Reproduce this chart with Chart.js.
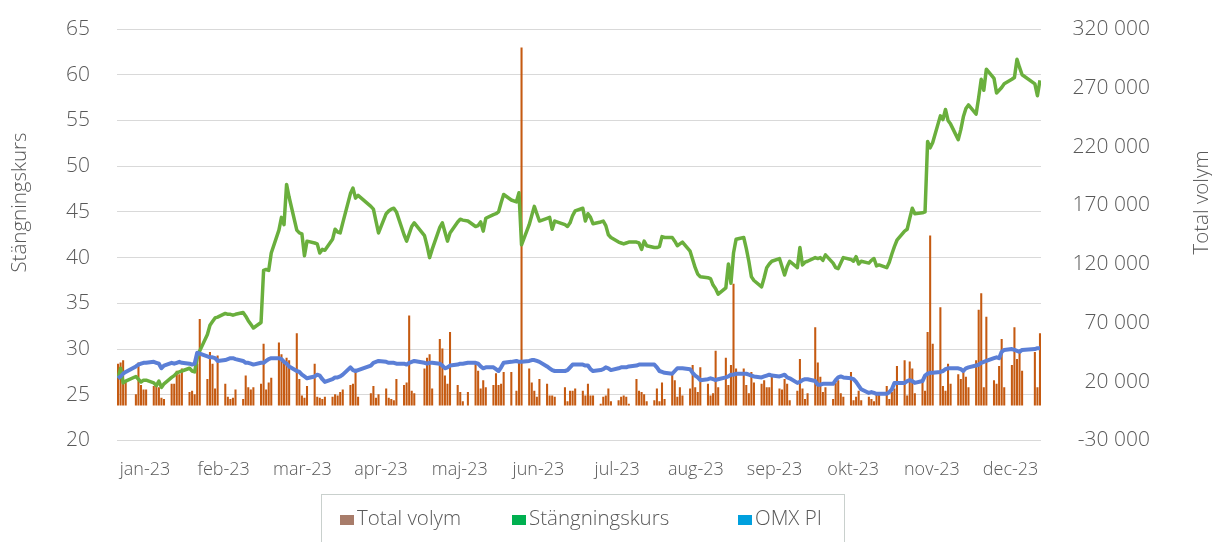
<!DOCTYPE html>
<html><head><meta charset="utf-8">
<script src="https://cdn.jsdelivr.net/npm/chart.js@4.4.1/dist/chart.umd.min.js"></script>
<style>
html,body{margin:0;padding:0;background:#fff;overflow:hidden;}
#wrap{position:relative;width:1212px;height:542px;overflow:hidden;}
#c{position:absolute;left:0;top:0;}
#legend{position:absolute;left:321px;top:494px;width:524px;height:70px;border:1px solid #c9d0cd;box-sizing:border-box;font-family:'Open Sans',sans-serif;font-weight:300;font-size:20.5px;color:#595959;}
.sw{position:absolute;top:20px;width:14px;height:10px;}
.tx{position:absolute;top:10px;line-height:24px;white-space:nowrap;}
</style></head>
<body><div id="wrap"><canvas id="c" width="1212" height="542"></canvas><div id="legend"></div></div>
<script>
// ---- categories (trading days 2023, Nasdaq Stockholm) ----
const YEAR = 2023;
const holidays = ['01-06','04-07','04-10','05-01','05-18','06-06','06-23','12-25','12-26'];
const monthLabels = ['jan-23','feb-23','mar-23','apr-23','maj-23','jun-23','jul-23','aug-23','sep-23','okt-23','nov-23','dec-23'];
const priceTicks = [20,25,30,35,40,45,50,55,60,65];
const volumeTicks = [-30000,20000,70000,120000,170000,220000,270000,320000];
const leftTitle = 'Stängningskurs';
const rightTitle = 'Total volym';

// ---- series (one value per trading day) ----
const closePrice = [
 26.8,27.9,26.3,26.5,27.0,26.7,26.4,26.6,26.6,26.3,26.0,26.5,25.8,26.2,26.9,27.1,27.4,27.5,27.6,27.9,27.6,
 27.5,29.0,29.8,31.6,32.6,33.0,33.4,33.5,33.9,33.8,33.8,33.7,33.8,34.0,33.6,33.1,32.7,32.3,32.9,38.6,
 38.7,38.6,40.5,43.0,44.4,43.6,48.0,46.6,43.0,42.7,42.6,40.2,41.8,41.6,41.5,40.5,40.9,40.8,42.0,43.1,42.8,42.7,43.8,
 47.0,47.6,46.5,46.8,45.6,45.3,44.0,42.7,44.8,45.1,45.3,45.4,45.0,42.5,41.8,42.6,43.4,43.8,
 42.4,41.3,40.0,40.9,43.3,43.8,42.8,41.8,42.7,43.9,44.2,44.1,44.0,43.4,43.5,43.9,42.9,44.3,44.7,44.8,45.0,
 46.0,46.9,46.3,46.1,47.1,41.4,43.6,44.6,45.6,44.8,44.0,44.3,44.4,43.1,44.0,43.6,43.4,43.8,44.6,45.1,
 45.4,44.0,44.8,44.4,43.7,43.9,44.0,43.5,42.5,42.2,41.7,41.6,41.5,41.6,41.7,41.7,41.6,40.9,41.8,41.3,41.1,
 41.1,41.2,42.3,42.2,42.2,41.8,41.3,41.5,41.7,40.7,39.8,38.9,38.2,37.9,37.8,37.7,37.0,36.6,36.0,36.7,39.3,37.2,40.5,
 42.0,42.2,41.0,39.6,37.9,37.5,36.8,37.8,38.9,39.3,39.6,39.9,39.0,38.1,39.0,39.6,38.9,41.1,39.2,39.5,39.6,
 40.0,39.9,40.0,39.7,40.3,39.4,38.9,38.8,39.4,40.0,39.8,39.6,40.1,39.3,39.6,39.4,39.7,39.9,39.1,39.2,38.9,39.5,
 40.4,41.2,41.9,42.9,43.1,44.3,45.4,44.8,44.9,45.0,52.7,52.0,52.6,55.5,55.1,56.2,55.0,54.6,52.9,54.0,55.4,56.3,
 56.7,55.7,57.5,59.5,58.3,60.6,59.6,58.0,58.3,58.6,59.0,59.5,59.7,61.7,60.8,60.0,59.0,57.7,59.4
];
const omxPi = [
 26.8,27.0,27.3,27.5,28.1,28.3,28.4,28.5,28.5,28.6,28.5,28.4,27.9,28.2,28.5,28.4,28.5,28.6,28.5,28.4,28.3,
 28.4,29.6,29.5,29.2,29.1,29.1,29.0,28.7,28.8,28.9,29.0,29.0,28.9,28.7,28.5,28.5,28.4,28.3,28.5,28.5,
 28.7,28.9,29.0,29.0,28.9,28.6,28.4,28.1,27.6,27.5,27.2,27.0,26.8,27.0,27.2,27.1,26.7,26.4,26.7,26.9,26.9,27.0,27.2,
 28.0,27.7,27.6,27.7,28.2,28.5,28.6,28.7,28.6,28.5,28.5,28.5,28.4,28.4,28.3,28.5,28.6,28.7,
 28.5,28.4,28.5,28.5,28.4,28.2,27.9,28.0,28.2,28.3,28.4,28.4,28.5,28.5,28.4,28.1,27.9,28.0,28.0,27.8,27.6,
 28.0,28.5,28.6,28.7,28.6,28.6,28.7,28.8,28.8,28.7,28.6,28.1,27.9,27.7,27.6,27.6,27.7,28.0,28.3,28.3,
 28.3,28.2,28.2,27.8,27.6,27.7,27.8,28.0,27.9,27.7,27.9,28.0,28.0,28.0,28.1,28.2,28.3,28.3,28.3,28.3,28.3,
 28.0,27.6,27.5,27.4,27.3,27.6,27.9,27.9,27.9,27.8,27.4,27.1,26.9,26.6,26.7,26.8,26.7,26.6,26.7,26.9,27.0,27.2,27.2,
 27.3,27.3,27.3,27.2,27.1,27.0,26.9,27.0,27.1,27.2,27.1,27.0,27.1,27.2,26.9,26.8,26.3,26.4,26.6,26.7,26.7,
 26.5,26.1,26.1,26.2,26.2,26.2,26.6,26.9,27.0,26.9,26.8,26.7,26.4,26.0,25.6,25.2,25.3,25.2,25.1,25.1,25.1,25.3,
 25.6,26.3,26.3,26.3,26.5,26.6,26.5,26.3,26.5,27.1,27.3,27.4,27.4,27.5,27.6,27.8,27.9,27.9,27.9,27.8,27.6,27.9,
 28.0,28.2,28.3,28.5,28.6,28.7,29.0,29.1,29.0,29.7,29.9,30.0,29.9,29.8,29.7,29.9,30.0,30.1,30.1
];
const volume = [
 35000,36000,38000,21000,9000,36000,17000,13000,13000,16000,17000,15000,6000,5000,18000,18000,29000,26000,31000,11000,12000,
 9000,35000,73000,22000,45000,35000,14000,42000,18000,7000,5000,6000,13000,5000,25000,15000,13000,15000,18000,52000,
 13000,19000,23000,53000,43000,38000,40000,38000,61000,22000,8000,6000,16000,35000,7000,6000,5000,7000,7000,9000,8000,11000,13000,
 17000,18000,28000,7000,10000,16000,6000,9000,14000,6000,5000,4000,22000,17000,19000,76000,12000,10000,
 31000,40000,43000,14000,56000,48000,25000,18000,62000,17000,11000,3000,11000,35000,29000,14000,21000,15000,17000,27000,17000,
 18000,28000,28000,12000,36000,304000,31000,19000,12000,7000,22000,18000,8000,8000,7000,15000,3000,12000,12000,14000,
 12000,8000,18000,8000,8000,1000,7000,8000,14000,3000,4000,7000,8000,7000,1000,22000,12000,11000,9000,3000,4000,
 14000,3000,19000,5000,28000,21000,7000,15000,8000,14000,34000,15000,11000,32000,18000,8000,10000,46000,15000,40000,17000,34000,103000,
 31000,31000,17000,10000,28000,19000,18000,21000,15000,15000,24000,14000,13000,22000,18000,4000,12000,39000,14000,5000,10000,
 66000,36000,24000,11000,15000,5000,19000,21000,10000,7000,28000,4000,7000,12000,4000,7000,5000,3000,10000,10000,16000,5000,
 11000,14000,33000,38000,8000,37000,31000,10000,22000,12000,62000,144000,52000,83000,16000,12000,35000,18000,26000,22000,29000,24000,
 15000,38000,81000,95000,15000,75000,21000,18000,33000,56000,15000,34000,66000,39000,46000,29000,45000,15000,61000
];

// trading day positions (day of year, 0 = 1 Jan)
const tradingDays = [];
for (let d = new Date(Date.UTC(YEAR,0,1)); d.getUTCFullYear() === YEAR; d.setUTCDate(d.getUTCDate()+1)) {
  const wd = d.getUTCDay();
  const mmdd = String(d.getUTCMonth()+1).padStart(2,'0') + '-' + String(d.getUTCDate()).padStart(2,'0');
  if (wd === 0 || wd === 6 || holidays.includes(mmdd)) continue;
  tradingDays.push(Math.round((d - Date.UTC(YEAR,0,1)) / 86400000));
}
const pts = arr => tradingDays.map((x,i) => ({x, y: arr[i]}));

const FONT = "'Open Sans', sans-serif";
const TXT = '#595959';
Chart.defaults.font.family = FONT;
Chart.defaults.font.weight = '300';
Chart.defaults.color = TXT;

const titlePlugin = {
  id: 'axisTitles',
  afterDraw(chart) {
    const ctx = chart.ctx;
    ctx.save();
    ctx.font = "300 20.5px " + FONT;
    ctx.fillStyle = TXT;
    ctx.textAlign = 'center';
    ctx.textBaseline = 'middle';
    [[leftTitle, 20], [rightTitle, 1202]].forEach(([t, x]) => {
      ctx.save(); ctx.translate(x, 202.5); ctx.rotate(-Math.PI/2); ctx.fillText(t, 0, 0); ctx.restore();
    });
    ctx.restore();
  }
};

const fitY = w => s => { s.width = w; s.paddingTop = 0; s.paddingBottom = 0; };

const chart = new Chart(document.getElementById('c'), {
  type: 'bar',
  data: {
    datasets: [
      { type:'bar', label:'Total volym', data: pts(volume), yAxisID:'y1', backgroundColor:'#c55a11', barThickness:1.4, order:3, legendColor:'#a87c6a' },
      { type:'line', label:'Stängningskurs', data: pts(closePrice), yAxisID:'y', borderColor:'#6aaf3d', borderWidth:3.5, pointRadius:0, tension:0, borderJoinStyle:'round', order:2, legendColor:'#00b050' },
      { type:'line', label:'OMX PI', data: pts(omxPi), yAxisID:'y', borderColor:'#5b7fd6', borderWidth:4, pointRadius:0, tension:0, borderJoinStyle:'round', order:1, legendColor:'#00a0de' }
    ]
  },
  options: {
    responsive:false, animation:false, devicePixelRatio:1,
    layout:{ padding:{ top:29, right:62, bottom:61.5, left:0 } },
    plugins:{ legend:{display:false}, tooltip:{enabled:false} },
    scales:{
      x:{ type:'linear', min:0.6, max:362.4, offset:false,
          grid:{display:false}, border:{display:false},
          afterBuildTicks: s => { s.ticks = monthLabels.map((_, k) => ({ value: 11.57 + 30.81*k })); },
          ticks:{ autoSkip:false, maxRotation:0, minRotation:0, padding:11, font:{size:18}, color:TXT, callback:(v,i) => monthLabels[i] },
          afterFit: s => { s.height = 40; } },
      y:{ type:'linear', position:'left', min:priceTicks[0], max:priceTicks[priceTicks.length-1],
          afterBuildTicks: s => { s.ticks = priceTicks.map(v => ({value:v})); },
          grid:{ color:'#d9d9d9', lineWidth:1, drawTicks:false }, border:{display:false},
          ticks:{ padding:27, font:{size:21}, color:TXT },
          afterFit: fitY(117) },
      y1:{ type:'linear', position:'right', min:volumeTicks[0], max:volumeTicks[volumeTicks.length-1],
          afterBuildTicks: s => { s.ticks = volumeTicks.map(v => ({value:v})); },
          grid:{display:false, drawTicks:false}, border:{display:false},
          ticks:{ crossAlign:'far', padding:10, font:{size:21}, color:TXT,
                  callback: v => String(v).replace(/\B(?=(\d{3})+(?!\d))/g, ' ') },
          afterFit: fitY(109) }
    }
  },
  plugins:[titlePlugin]
});

// HTML legend built from the datasets
const legendLeft = [18, 190, 416];
const lg = document.getElementById('legend');
chart.data.datasets.forEach((ds, i) => {
  const sw = document.createElement('div'); sw.className = 'sw'; sw.style.left = legendLeft[i] + 'px'; sw.style.background = ds.legendColor; lg.appendChild(sw);
  const tx = document.createElement('div'); tx.className = 'tx'; tx.style.left = (legendLeft[i] + 17) + 'px'; tx.textContent = ds.label; lg.appendChild(tx);
});
</script></body></html>
